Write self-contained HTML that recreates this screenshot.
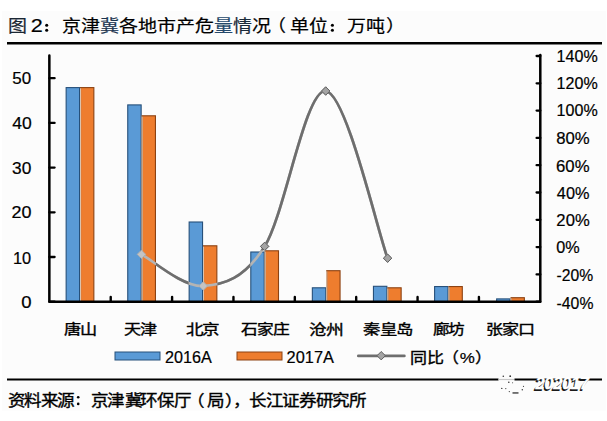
<!DOCTYPE html>
<html lang="zh-CN"><head><meta charset="utf-8"><style>
html,body{margin:0;padding:0;background:#fff;}
body{width:607px;height:421px;overflow:hidden;font-family:"Liberation Sans",sans-serif;}
svg{display:block;}
text{font-family:"Liberation Sans",sans-serif;}
</style></head><body>
<svg width="607" height="421" viewBox="0 0 607 421">
<rect width="607" height="421" fill="#fff"/>
<rect x="2" y="11" width="604" height="399.7" fill="#fcfcfc"/>
<defs><mask id="nb"><rect width="607" height="421" fill="white"/><rect x="65.60" y="87.10" width="28.80" height="214.60" fill="black"/><rect x="127.20" y="104.40" width="28.80" height="197.30" fill="black"/><rect x="188.60" y="221.50" width="28.80" height="80.20" fill="black"/><rect x="250.25" y="250.30" width="28.80" height="51.40" fill="black"/><rect x="311.80" y="270.20" width="28.80" height="31.50" fill="black"/><rect x="372.90" y="285.80" width="28.80" height="15.90" fill="black"/><rect x="434.05" y="286.05" width="28.80" height="15.65" fill="black"/><rect x="496.10" y="297.20" width="28.80" height="4.50" fill="black"/></mask></defs>
<line x1="7" y1="43.2" x2="602" y2="43.2" stroke="#000" stroke-width="2.4"/>
<rect x="66.15" y="87.60" width="13.40" height="214.10" fill="#5a9ad6" stroke="#27507a" stroke-width="1.1"/><rect x="80.55" y="87.60" width="13.30" height="214.10" fill="#ee7d2e" stroke="#8c4212" stroke-width="1.1"/><line x1="80.55" y1="88.20" x2="80.55" y2="301.70" stroke="#dcc3ad" stroke-width="1.1"/><rect x="127.75" y="104.90" width="13.40" height="196.80" fill="#5a9ad6" stroke="#27507a" stroke-width="1.1"/><rect x="142.15" y="115.80" width="13.30" height="185.90" fill="#ee7d2e" stroke="#8c4212" stroke-width="1.1"/><line x1="142.15" y1="116.40" x2="142.15" y2="301.70" stroke="#dcc3ad" stroke-width="1.1"/><rect x="189.15" y="222.00" width="13.40" height="79.70" fill="#5a9ad6" stroke="#27507a" stroke-width="1.1"/><rect x="203.55" y="245.80" width="13.30" height="55.90" fill="#ee7d2e" stroke="#8c4212" stroke-width="1.1"/><line x1="203.55" y1="246.40" x2="203.55" y2="301.70" stroke="#dcc3ad" stroke-width="1.1"/><rect x="250.80" y="252.00" width="13.40" height="49.70" fill="#5a9ad6" stroke="#27507a" stroke-width="1.1"/><rect x="265.20" y="250.80" width="13.30" height="50.90" fill="#ee7d2e" stroke="#8c4212" stroke-width="1.1"/><line x1="265.20" y1="251.40" x2="265.20" y2="301.70" stroke="#dcc3ad" stroke-width="1.1"/><rect x="312.35" y="287.80" width="13.40" height="13.90" fill="#5a9ad6" stroke="#27507a" stroke-width="1.1"/><rect x="326.75" y="270.70" width="13.30" height="31.00" fill="#ee7d2e" stroke="#8c4212" stroke-width="1.1"/><line x1="326.75" y1="271.30" x2="326.75" y2="301.70" stroke="#dcc3ad" stroke-width="1.1"/><rect x="373.45" y="286.30" width="13.40" height="15.40" fill="#5a9ad6" stroke="#27507a" stroke-width="1.1"/><rect x="387.85" y="287.80" width="13.30" height="13.90" fill="#ee7d2e" stroke="#8c4212" stroke-width="1.1"/><line x1="387.85" y1="288.40" x2="387.85" y2="301.70" stroke="#dcc3ad" stroke-width="1.1"/><rect x="434.60" y="286.55" width="13.40" height="15.15" fill="#5a9ad6" stroke="#27507a" stroke-width="1.1"/><rect x="449.00" y="286.55" width="13.30" height="15.15" fill="#ee7d2e" stroke="#8c4212" stroke-width="1.1"/><line x1="449.00" y1="287.15" x2="449.00" y2="301.70" stroke="#dcc3ad" stroke-width="1.1"/><rect x="496.65" y="298.90" width="13.40" height="2.80" fill="#5a9ad6" stroke="#27507a" stroke-width="1.1"/><rect x="511.05" y="297.70" width="13.30" height="4.00" fill="#ee7d2e" stroke="#8c4212" stroke-width="1.1"/><line x1="511.05" y1="298.30" x2="511.05" y2="301.70" stroke="#dcc3ad" stroke-width="1.1"/>
<path d="M49.35,55.4 L49.35,301.7 L540.3,301.7 L540.3,55.0" fill="none" stroke="#000" stroke-width="2.5" stroke-linejoin="round" stroke-linecap="round"/><line x1="49.35" y1="301.70" x2="54.6" y2="301.70" stroke="#000" stroke-width="2.3" stroke-linecap="round"/><line x1="49.35" y1="257.00" x2="54.6" y2="257.00" stroke="#000" stroke-width="2.3" stroke-linecap="round"/><line x1="49.35" y1="212.30" x2="54.6" y2="212.30" stroke="#000" stroke-width="2.3" stroke-linecap="round"/><line x1="49.35" y1="167.60" x2="54.6" y2="167.60" stroke="#000" stroke-width="2.3" stroke-linecap="round"/><line x1="49.35" y1="122.90" x2="54.6" y2="122.90" stroke="#000" stroke-width="2.3" stroke-linecap="round"/><line x1="49.35" y1="78.20" x2="54.6" y2="78.20" stroke="#000" stroke-width="2.3" stroke-linecap="round"/><line x1="536.6" y1="301.70" x2="540.3" y2="301.70" stroke="#000" stroke-width="2.3" stroke-linecap="round"/><line x1="536.6" y1="274.40" x2="540.3" y2="274.40" stroke="#000" stroke-width="2.3" stroke-linecap="round"/><line x1="536.6" y1="247.10" x2="540.3" y2="247.10" stroke="#000" stroke-width="2.3" stroke-linecap="round"/><line x1="536.6" y1="219.80" x2="540.3" y2="219.80" stroke="#000" stroke-width="2.3" stroke-linecap="round"/><line x1="536.6" y1="192.50" x2="540.3" y2="192.50" stroke="#000" stroke-width="2.3" stroke-linecap="round"/><line x1="536.6" y1="165.20" x2="540.3" y2="165.20" stroke="#000" stroke-width="2.3" stroke-linecap="round"/><line x1="536.6" y1="137.90" x2="540.3" y2="137.90" stroke="#000" stroke-width="2.3" stroke-linecap="round"/><line x1="536.6" y1="110.60" x2="540.3" y2="110.60" stroke="#000" stroke-width="2.3" stroke-linecap="round"/><line x1="536.6" y1="83.30" x2="540.3" y2="83.30" stroke="#000" stroke-width="2.3" stroke-linecap="round"/><line x1="536.6" y1="56.00" x2="540.3" y2="56.00" stroke="#000" stroke-width="2.3" stroke-linecap="round"/><line x1="110.72" y1="301.7" x2="110.72" y2="296.9" stroke="#000" stroke-width="2.4" stroke-linecap="round"/><line x1="172.09" y1="301.7" x2="172.09" y2="296.9" stroke="#000" stroke-width="2.4" stroke-linecap="round"/><line x1="233.46" y1="301.7" x2="233.46" y2="296.9" stroke="#000" stroke-width="2.4" stroke-linecap="round"/><line x1="294.82" y1="301.7" x2="294.82" y2="296.9" stroke="#000" stroke-width="2.4" stroke-linecap="round"/><line x1="356.19" y1="301.7" x2="356.19" y2="296.9" stroke="#000" stroke-width="2.4" stroke-linecap="round"/><line x1="417.56" y1="301.7" x2="417.56" y2="296.9" stroke="#000" stroke-width="2.4" stroke-linecap="round"/><line x1="478.93" y1="301.7" x2="478.93" y2="296.9" stroke="#000" stroke-width="2.4" stroke-linecap="round"/>
<path d="M141.45,254.35 C151.76,259.62 182.77,287.32 203.30,286.00 C223.83,284.68 244.25,278.90 264.65,246.40 C285.05,213.90 305.21,89.03 325.70,91.00 C346.19,92.97 377.28,230.33 387.60,258.20" fill="none" stroke="#b4b4b4" stroke-width="2.7"/>
<path d="M141.45,254.35 C151.76,259.62 182.77,287.32 203.30,286.00 C223.83,284.68 244.25,278.90 264.65,246.40 C285.05,213.90 305.21,89.03 325.70,91.00 C346.19,92.97 377.28,230.33 387.60,258.20" fill="none" stroke="#6e6e6e" stroke-width="2.7" mask="url(#nb)"/>
<path d="M141.45,250.15 L145.65,254.35 L141.45,258.55 L137.25,254.35 Z" fill="#c4c4c4" stroke="#b0b0b0" stroke-width="1"/><path d="M203.30,281.80 L207.50,286.00 L203.30,290.20 L199.10,286.00 Z" fill="#c4c4c4" stroke="#b0b0b0" stroke-width="1"/><path d="M264.65,242.20 L268.85,246.40 L264.65,250.60 L260.45,246.40 Z" fill="#c4c4c4" stroke="#b0b0b0" stroke-width="1"/><path d="M325.70,86.80 L329.90,91.00 L325.70,95.20 L321.50,91.00 Z" fill="#c4c4c4" stroke="#b0b0b0" stroke-width="1"/><path d="M387.60,254.00 L391.80,258.20 L387.60,262.40 L383.40,258.20 Z" fill="#c4c4c4" stroke="#b0b0b0" stroke-width="1"/>
<path d="M141.45,250.15 L145.65,254.35 L141.45,258.55 L137.25,254.35 Z" fill="#a4a4a4" stroke="#5e5e5e" stroke-width="1" mask="url(#nb)"/><path d="M203.30,281.80 L207.50,286.00 L203.30,290.20 L199.10,286.00 Z" fill="#a4a4a4" stroke="#5e5e5e" stroke-width="1" mask="url(#nb)"/><path d="M264.65,242.20 L268.85,246.40 L264.65,250.60 L260.45,246.40 Z" fill="#a4a4a4" stroke="#5e5e5e" stroke-width="1" mask="url(#nb)"/><path d="M325.70,86.80 L329.90,91.00 L325.70,95.20 L321.50,91.00 Z" fill="#a4a4a4" stroke="#5e5e5e" stroke-width="1" mask="url(#nb)"/><path d="M387.60,254.00 L391.80,258.20 L387.60,262.40 L383.40,258.20 Z" fill="#a4a4a4" stroke="#5e5e5e" stroke-width="1" mask="url(#nb)"/>
<rect x="115" y="352" width="45" height="8" fill="#5a9ad6" stroke="#27507a" stroke-width="1"/>
<rect x="237" y="352" width="45" height="8" fill="#ee7d2e" stroke="#8c4212" stroke-width="1"/>
<line x1="358.4" y1="355.9" x2="404.3" y2="355.9" stroke="#6e6e6e" stroke-width="2.9" stroke-linecap="round"/>
<path d="M381.20,351.50 L385.40,355.70 L381.20,359.90 L377.00,355.70 Z" fill="#a4a4a4" stroke="#5e5e5e" stroke-width="1"/>
<line x1="7" y1="379.5" x2="498.5" y2="379.5" stroke="#000" stroke-width="2.2"/>
<line x1="498.5" y1="379.5" x2="514.5" y2="379.5" stroke="#c8c8c8" stroke-width="1.2"/>
<line x1="514.5" y1="379.5" x2="602" y2="379.5" stroke="#000" stroke-width="2.2"/>
<g fill="#000"><circle cx="46.7" cy="25.2" r="1.55"/><circle cx="46.7" cy="30.25" r="1.55"/><circle cx="332.4" cy="25.2" r="1.55"/><circle cx="332.4" cy="30.25" r="1.55"/>
<circle cx="78.2" cy="397.2" r="1.3"/><circle cx="78.2" cy="403.9" r="1.3"/></g>
<g fill="#333">
<circle cx="503.3" cy="376.2" r="0.8"/><circle cx="510.2" cy="376.2" r="0.9"/><circle cx="508.8" cy="382.3" r="0.8"/>
<circle cx="501.8" cy="388.4" r="0.7"/><circle cx="505.8" cy="388.6" r="0.6"/><circle cx="509.3" cy="391.6" r="0.6"/>
<circle cx="522.3" cy="389.8" r="0.7"/><circle cx="523.5" cy="386.3" r="0.6"/><circle cx="512.6" cy="382.8" r="0.5"/>
<rect x="512.5" y="392.3" width="6" height="1.3"/>
</g>
<text x="533.9" y="390.9" style="font-size:16.5px;font-style:italic;font-weight:bold;letter-spacing:-0.3px" fill="#1a1a1a">202017</text>
<text x="535.4" y="389.0" style="font-size:16.5px;font-style:italic;font-weight:bold;letter-spacing:-0.3px" fill="#fff" stroke="#fff" stroke-width="0.3">202017</text>
<text transform="translate(7.63,31.78) scale(1.1233,1)" style="font-size:16.91px;font-weight:500" fill="#1a2633" stroke="#1a2633" stroke-width="0.2">图</text>
<text transform="translate(61.50,31.78) scale(1.1233,1)" style="font-size:16.91px;font-weight:500" fill="#000" stroke="#000" stroke-width="0.2">京</text>
<text transform="translate(80.50,31.78) scale(1.1233,1)" style="font-size:16.91px;font-weight:500" fill="#000" stroke="#000" stroke-width="0.2">津</text>
<text transform="translate(99.50,31.78) scale(1.1233,1)" style="font-size:16.91px;font-weight:500" fill="#1c3550" stroke="#1c3550" stroke-width="0.2">冀</text>
<text transform="translate(118.50,31.78) scale(1.1233,1)" style="font-size:16.91px;font-weight:500" fill="#000" stroke="#000" stroke-width="0.2">各</text>
<text transform="translate(137.50,31.78) scale(1.1233,1)" style="font-size:16.91px;font-weight:500" fill="#000" stroke="#000" stroke-width="0.2">地</text>
<text transform="translate(156.50,31.78) scale(1.1233,1)" style="font-size:16.91px;font-weight:500" fill="#000" stroke="#000" stroke-width="0.2">市</text>
<text transform="translate(175.50,31.78) scale(1.1233,1)" style="font-size:16.91px;font-weight:500" fill="#000" stroke="#000" stroke-width="0.2">产</text>
<text transform="translate(194.50,31.78) scale(1.1233,1)" style="font-size:16.91px;font-weight:500" fill="#000" stroke="#000" stroke-width="0.2">危</text>
<text transform="translate(213.50,31.78) scale(1.1233,1)" style="font-size:16.91px;font-weight:500" fill="#24486a" stroke="#24486a" stroke-width="0.2">量</text>
<text transform="translate(232.50,31.78) scale(1.1233,1)" style="font-size:16.91px;font-weight:500" fill="#1a2a3a" stroke="#1a2a3a" stroke-width="0.2">情</text>
<text transform="translate(251.50,31.78) scale(1.1233,1)" style="font-size:16.91px;font-weight:500" fill="#000" stroke="#000" stroke-width="0.2">况</text>
<text transform="translate(266.50,31.78) scale(1.1233,1)" style="font-size:16.91px;font-weight:500" fill="#000" stroke="#000" stroke-width="0.2">（</text>
<text transform="translate(289.50,31.78) scale(1.1233,1)" style="font-size:16.91px;font-weight:500" fill="#000" stroke="#000" stroke-width="0.2">单</text>
<text transform="translate(308.50,31.78) scale(1.1233,1)" style="font-size:16.91px;font-weight:500" fill="#000" stroke="#000" stroke-width="0.2">位</text>
<text transform="translate(346.50,31.78) scale(1.1233,1)" style="font-size:16.91px;font-weight:500" fill="#000" stroke="#000" stroke-width="0.2">万</text>
<text transform="translate(365.50,31.78) scale(1.1233,1)" style="font-size:16.91px;font-weight:500" fill="#000" stroke="#000" stroke-width="0.2">吨</text>
<text transform="translate(385.90,31.78) scale(1.1233,1)" style="font-size:16.91px;font-weight:500" fill="#000" stroke="#000" stroke-width="0.2">）</text>
<text transform="translate(30.72,32.00) scale(1.1200,1)" style="font-size:19.29px;font-weight:400" fill="#000" stroke="#000" stroke-width="0.2">2</text>
<text transform="translate(12.32,83.75) scale(1.0529,1)" style="font-size:16.09px;font-weight:400" fill="#000" stroke="#000" stroke-width="0.2">5</text>
<text transform="translate(21.75,83.75) scale(1.0529,1)" style="font-size:16.09px;font-weight:400" fill="#000" stroke="#000" stroke-width="0.2">0</text>
<text transform="translate(12.35,128.95) scale(1.0906,1)" style="font-size:16.09px;font-weight:400" fill="#000" stroke="#000" stroke-width="0.2">4</text>
<text transform="translate(22.11,128.95) scale(1.0906,1)" style="font-size:16.09px;font-weight:400" fill="#000" stroke="#000" stroke-width="0.2">0</text>
<text transform="translate(12.11,174.15) scale(1.0784,1)" style="font-size:16.09px;font-weight:400" fill="#000" stroke="#000" stroke-width="0.2">3</text>
<text transform="translate(21.76,174.15) scale(1.0784,1)" style="font-size:16.09px;font-weight:400" fill="#000" stroke="#000" stroke-width="0.2">0</text>
<text transform="translate(11.60,218.35) scale(1.1174,1)" style="font-size:16.09px;font-weight:400" fill="#000" stroke="#000" stroke-width="0.2">2</text>
<text transform="translate(21.60,218.35) scale(1.1174,1)" style="font-size:16.09px;font-weight:400" fill="#000" stroke="#000" stroke-width="0.2">0</text>
<text transform="translate(12.99,263.55) scale(1.0165,1)" style="font-size:16.09px;font-weight:400" fill="#000" stroke="#000" stroke-width="0.2">1</text>
<text transform="translate(22.09,263.55) scale(1.0165,1)" style="font-size:16.09px;font-weight:400" fill="#000" stroke="#000" stroke-width="0.2">0</text>
<text transform="translate(21.26,307.75) scale(1.1498,1)" style="font-size:16.09px;font-weight:400" fill="#000" stroke="#000" stroke-width="0.2">0</text>
<text transform="translate(556.61,62.15) scale(0.9988,1)" style="font-size:16.09px;font-weight:400" fill="#000" stroke="#000" stroke-width="0.2">1</text>
<text transform="translate(565.56,62.15) scale(0.9988,1)" style="font-size:16.09px;font-weight:400" fill="#000" stroke="#000" stroke-width="0.2">4</text>
<text transform="translate(574.50,62.15) scale(0.9988,1)" style="font-size:16.09px;font-weight:400" fill="#000" stroke="#000" stroke-width="0.2">0</text>
<text transform="translate(583.44,62.15) scale(0.9988,1)" style="font-size:16.09px;font-weight:400" fill="#000" stroke="#000" stroke-width="0.2">%</text>
<text transform="translate(556.61,88.75) scale(0.9988,1)" style="font-size:16.09px;font-weight:400" fill="#000" stroke="#000" stroke-width="0.2">1</text>
<text transform="translate(565.56,88.75) scale(0.9988,1)" style="font-size:16.09px;font-weight:400" fill="#000" stroke="#000" stroke-width="0.2">2</text>
<text transform="translate(574.50,88.75) scale(0.9988,1)" style="font-size:16.09px;font-weight:400" fill="#000" stroke="#000" stroke-width="0.2">0</text>
<text transform="translate(583.44,88.75) scale(0.9988,1)" style="font-size:16.09px;font-weight:400" fill="#000" stroke="#000" stroke-width="0.2">%</text>
<text transform="translate(556.61,116.35) scale(0.9988,1)" style="font-size:16.09px;font-weight:400" fill="#000" stroke="#000" stroke-width="0.2">1</text>
<text transform="translate(565.56,116.35) scale(0.9988,1)" style="font-size:16.09px;font-weight:400" fill="#000" stroke="#000" stroke-width="0.2">0</text>
<text transform="translate(574.50,116.35) scale(0.9988,1)" style="font-size:16.09px;font-weight:400" fill="#000" stroke="#000" stroke-width="0.2">0</text>
<text transform="translate(583.44,116.35) scale(0.9988,1)" style="font-size:16.09px;font-weight:400" fill="#000" stroke="#000" stroke-width="0.2">%</text>
<text transform="translate(556.23,143.95) scale(1.0394,1)" style="font-size:16.09px;font-weight:400" fill="#000" stroke="#000" stroke-width="0.2">8</text>
<text transform="translate(565.54,143.95) scale(1.0394,1)" style="font-size:16.09px;font-weight:400" fill="#000" stroke="#000" stroke-width="0.2">0</text>
<text transform="translate(574.84,143.95) scale(1.0394,1)" style="font-size:16.09px;font-weight:400" fill="#000" stroke="#000" stroke-width="0.2">%</text>
<text transform="translate(556.06,171.55) scale(1.0394,1)" style="font-size:16.09px;font-weight:400" fill="#000" stroke="#000" stroke-width="0.2">6</text>
<text transform="translate(565.37,171.55) scale(1.0394,1)" style="font-size:16.09px;font-weight:400" fill="#000" stroke="#000" stroke-width="0.2">0</text>
<text transform="translate(574.67,171.55) scale(1.0394,1)" style="font-size:16.09px;font-weight:400" fill="#000" stroke="#000" stroke-width="0.2">%</text>
<text transform="translate(556.87,199.15) scale(1.0128,1)" style="font-size:16.09px;font-weight:400" fill="#000" stroke="#000" stroke-width="0.2">4</text>
<text transform="translate(565.94,199.15) scale(1.0128,1)" style="font-size:16.09px;font-weight:400" fill="#000" stroke="#000" stroke-width="0.2">0</text>
<text transform="translate(575.01,199.15) scale(1.0128,1)" style="font-size:16.09px;font-weight:400" fill="#000" stroke="#000" stroke-width="0.2">%</text>
<text transform="translate(556.37,225.75) scale(1.0345,1)" style="font-size:16.09px;font-weight:400" fill="#000" stroke="#000" stroke-width="0.2">2</text>
<text transform="translate(565.63,225.75) scale(1.0345,1)" style="font-size:16.09px;font-weight:400" fill="#000" stroke="#000" stroke-width="0.2">0</text>
<text transform="translate(574.89,225.75) scale(1.0345,1)" style="font-size:16.09px;font-weight:400" fill="#000" stroke="#000" stroke-width="0.2">%</text>
<text transform="translate(556.15,253.35) scale(1.0088,1)" style="font-size:16.09px;font-weight:400" fill="#000" stroke="#000" stroke-width="0.2">0</text>
<text transform="translate(565.18,253.35) scale(1.0088,1)" style="font-size:16.09px;font-weight:400" fill="#000" stroke="#000" stroke-width="0.2">%</text>
<text transform="translate(556.57,280.95) scale(0.9758,1)" style="font-size:16.09px;font-weight:400" fill="#000" stroke="#000" stroke-width="0.2">-</text>
<text transform="translate(561.80,280.95) scale(0.9758,1)" style="font-size:16.09px;font-weight:400" fill="#000" stroke="#000" stroke-width="0.2">2</text>
<text transform="translate(570.54,280.95) scale(0.9758,1)" style="font-size:16.09px;font-weight:400" fill="#000" stroke="#000" stroke-width="0.2">0</text>
<text transform="translate(579.27,280.95) scale(0.9758,1)" style="font-size:16.09px;font-weight:400" fill="#000" stroke="#000" stroke-width="0.2">%</text>
<text transform="translate(556.57,308.55) scale(0.9811,1)" style="font-size:16.09px;font-weight:400" fill="#000" stroke="#000" stroke-width="0.2">-</text>
<text transform="translate(561.83,308.55) scale(0.9811,1)" style="font-size:16.09px;font-weight:400" fill="#000" stroke="#000" stroke-width="0.2">4</text>
<text transform="translate(570.61,308.55) scale(0.9811,1)" style="font-size:16.09px;font-weight:400" fill="#000" stroke="#000" stroke-width="0.2">0</text>
<text transform="translate(579.39,308.55) scale(0.9811,1)" style="font-size:16.09px;font-weight:400" fill="#000" stroke="#000" stroke-width="0.2">%</text>
<text transform="translate(63.98,334.03) scale(1.2504,1)" style="font-size:13.76px;font-weight:500" fill="#000" stroke="#000" stroke-width="0.35">唐</text>
<text transform="translate(80.10,334.03) scale(1.2504,1)" style="font-size:13.76px;font-weight:500" fill="#000" stroke="#000" stroke-width="0.35">山</text>
<text transform="translate(124.34,334.03) scale(1.2451,1)" style="font-size:13.76px;font-weight:500" fill="#000" stroke="#000" stroke-width="0.35">天</text>
<text transform="translate(140.40,334.03) scale(1.2451,1)" style="font-size:13.76px;font-weight:500" fill="#000" stroke="#000" stroke-width="0.35">津</text>
<text transform="translate(186.00,334.03) scale(1.2771,1)" style="font-size:13.76px;font-weight:500" fill="#000" stroke="#000" stroke-width="0.35">北</text>
<text transform="translate(202.46,334.03) scale(1.2771,1)" style="font-size:13.76px;font-weight:500" fill="#000" stroke="#000" stroke-width="0.35">京</text>
<text transform="translate(241.40,334.03) scale(1.2165,1)" style="font-size:13.76px;font-weight:500" fill="#000" stroke="#000" stroke-width="0.35">石</text>
<text transform="translate(257.08,334.03) scale(1.2165,1)" style="font-size:13.76px;font-weight:500" fill="#000" stroke="#000" stroke-width="0.35">家</text>
<text transform="translate(272.77,334.03) scale(1.2165,1)" style="font-size:13.76px;font-weight:500" fill="#000" stroke="#000" stroke-width="0.35">庄</text>
<text transform="translate(309.01,334.90) scale(1.2084,1)" style="font-size:14.74px;font-weight:500" fill="#000" stroke="#000" stroke-width="0.35">沧</text>
<text transform="translate(325.70,334.90) scale(1.2084,1)" style="font-size:14.74px;font-weight:500" fill="#000" stroke="#000" stroke-width="0.35">州</text>
<text transform="translate(363.18,334.03) scale(1.2672,1)" style="font-size:13.76px;font-weight:500" fill="#000" stroke="#000" stroke-width="0.35">秦</text>
<text transform="translate(379.52,334.03) scale(1.2672,1)" style="font-size:13.76px;font-weight:500" fill="#000" stroke="#000" stroke-width="0.35">皇</text>
<text transform="translate(395.85,334.03) scale(1.2672,1)" style="font-size:13.76px;font-weight:500" fill="#000" stroke="#000" stroke-width="0.35">岛</text>
<text transform="translate(432.64,334.03) scale(1.2025,1)" style="font-size:13.76px;font-weight:500" fill="#000" stroke="#000" stroke-width="0.35">廊</text>
<text transform="translate(448.14,334.03) scale(1.2025,1)" style="font-size:13.76px;font-weight:500" fill="#000" stroke="#000" stroke-width="0.35">坊</text>
<text transform="translate(486.26,334.03) scale(1.2410,1)" style="font-size:13.76px;font-weight:500" fill="#000" stroke="#000" stroke-width="0.35">张</text>
<text transform="translate(502.26,334.03) scale(1.2410,1)" style="font-size:13.76px;font-weight:500" fill="#000" stroke="#000" stroke-width="0.35">家</text>
<text transform="translate(518.26,334.03) scale(1.2410,1)" style="font-size:13.76px;font-weight:500" fill="#000" stroke="#000" stroke-width="0.35">口</text>
<text transform="translate(164.99,362.68) scale(0.9786,1)" style="font-size:16.53px;font-weight:400" fill="#000" stroke="#000" stroke-width="0.2">2</text>
<text transform="translate(173.99,362.68) scale(0.9786,1)" style="font-size:16.53px;font-weight:400" fill="#000" stroke="#000" stroke-width="0.2">0</text>
<text transform="translate(182.98,362.68) scale(0.9786,1)" style="font-size:16.53px;font-weight:400" fill="#000" stroke="#000" stroke-width="0.2">1</text>
<text transform="translate(191.98,362.68) scale(0.9786,1)" style="font-size:16.53px;font-weight:400" fill="#000" stroke="#000" stroke-width="0.2">6</text>
<text transform="translate(200.98,362.68) scale(0.9786,1)" style="font-size:16.53px;font-weight:400" fill="#000" stroke="#000" stroke-width="0.2">A</text>
<text transform="translate(286.58,362.68) scale(0.9903,1)" style="font-size:16.53px;font-weight:400" fill="#000" stroke="#000" stroke-width="0.2">2</text>
<text transform="translate(295.69,362.68) scale(0.9903,1)" style="font-size:16.53px;font-weight:400" fill="#000" stroke="#000" stroke-width="0.2">0</text>
<text transform="translate(304.79,362.68) scale(0.9903,1)" style="font-size:16.53px;font-weight:400" fill="#000" stroke="#000" stroke-width="0.2">1</text>
<text transform="translate(313.89,362.68) scale(0.9903,1)" style="font-size:16.53px;font-weight:400" fill="#000" stroke="#000" stroke-width="0.2">7</text>
<text transform="translate(323.00,362.68) scale(0.9903,1)" style="font-size:16.53px;font-weight:400" fill="#000" stroke="#000" stroke-width="0.2">A</text>
<text transform="translate(409.77,362.50) scale(1.1290,1)" style="font-size:15.06px;font-weight:500" fill="#000" stroke="#000" stroke-width="0.35">同</text>
<text transform="translate(426.57,362.50) scale(1.1290,1)" style="font-size:15.06px;font-weight:500" fill="#000" stroke="#000" stroke-width="0.35">比</text>
<text transform="translate(441.90,362.50) scale(1.1290,1)" style="font-size:15.06px;font-weight:500" fill="#000" stroke="#000" stroke-width="0.35">（</text>
<text transform="translate(459.72,362.50) scale(1.1290,1)" style="font-size:15.06px;font-weight:400" fill="#000" stroke="#000" stroke-width="0.2">%</text>
<text transform="translate(475.35,362.50) scale(1.1290,1)" style="font-size:15.06px;font-weight:500" fill="#000" stroke="#000" stroke-width="0.35">）</text>
<text transform="translate(7.72,405.77) scale(1.1059,1)" style="font-size:15.91px;font-weight:500" fill="#000" stroke="#000" stroke-width="0.35">资</text>
<text transform="translate(24.17,405.77) scale(1.1059,1)" style="font-size:15.91px;font-weight:500" fill="#000" stroke="#000" stroke-width="0.35">料</text>
<text transform="translate(40.50,405.77) scale(1.1059,1)" style="font-size:15.91px;font-weight:500" fill="#000" stroke="#000" stroke-width="0.35">来</text>
<text transform="translate(57.00,405.77) scale(1.1059,1)" style="font-size:15.91px;font-weight:500" fill="#000" stroke="#000" stroke-width="0.35">源</text>
<text transform="translate(90.54,405.77) scale(1.1059,1)" style="font-size:15.91px;font-weight:500" fill="#000" stroke="#000" stroke-width="0.35">京</text>
<text transform="translate(107.40,405.77) scale(1.1059,1)" style="font-size:15.91px;font-weight:500" fill="#000" stroke="#000" stroke-width="0.35">津</text>
<text transform="translate(124.52,405.77) scale(1.1059,1)" style="font-size:15.91px;font-weight:500" fill="#000" stroke="#000" stroke-width="0.35">冀</text>
<text transform="translate(140.30,405.77) scale(1.1059,1)" style="font-size:15.91px;font-weight:500" fill="#000" stroke="#000" stroke-width="0.35">环</text>
<text transform="translate(156.97,405.77) scale(1.1059,1)" style="font-size:15.91px;font-weight:500" fill="#000" stroke="#000" stroke-width="0.35">保</text>
<text transform="translate(174.10,405.77) scale(1.1059,1)" style="font-size:15.91px;font-weight:500" fill="#000" stroke="#000" stroke-width="0.35">厅</text>
<text transform="translate(187.08,405.77) scale(1.1059,1)" style="font-size:15.91px;font-weight:500" fill="#000" stroke="#000" stroke-width="0.35">（</text>
<text transform="translate(206.67,405.77) scale(1.1059,1)" style="font-size:15.91px;font-weight:500" fill="#000" stroke="#000" stroke-width="0.35">局</text>
<text transform="translate(225.22,405.77) scale(1.1059,1)" style="font-size:15.91px;font-weight:500" fill="#000" stroke="#000" stroke-width="0.35">）</text>
<text transform="translate(232.74,405.77) scale(1.1059,1)" style="font-size:15.91px;font-weight:500" fill="#000" stroke="#000" stroke-width="0.35">，</text>
<text transform="translate(249.34,405.77) scale(1.1059,1)" style="font-size:15.91px;font-weight:500" fill="#000" stroke="#000" stroke-width="0.35">长</text>
<text transform="translate(265.52,405.77) scale(1.1059,1)" style="font-size:15.91px;font-weight:500" fill="#000" stroke="#000" stroke-width="0.35">江</text>
<text transform="translate(282.22,405.77) scale(1.1059,1)" style="font-size:15.91px;font-weight:500" fill="#000" stroke="#000" stroke-width="0.35">证</text>
<text transform="translate(298.90,405.77) scale(1.1059,1)" style="font-size:15.91px;font-weight:500" fill="#000" stroke="#000" stroke-width="0.35">券</text>
<text transform="translate(316.17,405.77) scale(1.1059,1)" style="font-size:15.91px;font-weight:500" fill="#000" stroke="#000" stroke-width="0.35">研</text>
<text transform="translate(331.74,405.77) scale(1.1059,1)" style="font-size:15.91px;font-weight:500" fill="#000" stroke="#000" stroke-width="0.35">究</text>
<text transform="translate(349.47,405.77) scale(1.1059,1)" style="font-size:15.91px;font-weight:500" fill="#000" stroke="#000" stroke-width="0.35">所</text>
</svg>
</body></html>
